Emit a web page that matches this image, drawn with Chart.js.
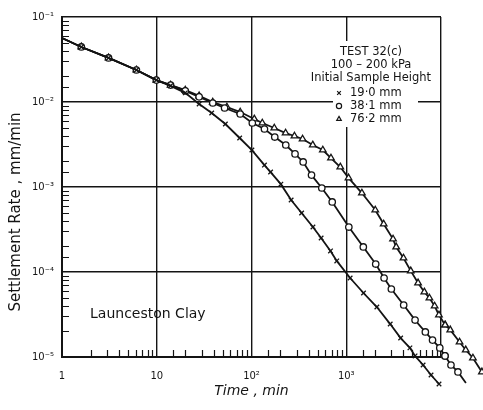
<!DOCTYPE html>
<html>
<head>
<meta charset="utf-8">
<script src="https://cdn.jsdelivr.net/npm/chart.js@4.4.1/dist/chart.umd.min.js"></script>
<style>
  html, body { margin: 0; padding: 0; background: #fff; }
</style>
</head>
<body>
<canvas id="chart" width="483" height="410"></canvas>
<script>
// time (min) and settlement rate (mm/min)
const time19 = [1, 1.6, 3.1, 6.1, 9.9, 14, 20, 28, 38, 53, 75, 101, 137, 159, 204, 262, 338, 445, 543, 682,
    794, 1099, 1521, 2104, 2911, 3750, 4698, 5323, 6471, 7848, 9528];
const rate19 = [0.0566, 0.0444, 0.033, 0.0238, 0.0181, 0.0155, 0.0128, 0.00946, 0.00743, 0.00551,
    0.00377, 0.00272, 0.00181, 0.0015, 0.00108, 0.000703, 0.000494, 0.000338, 0.000251, 0.000177,
    0.000135, 8.49e-5, 5.66e-5, 3.87e-5, 2.44e-5, 1.67e-5, 1.28e-5, 1.03e-5, 8.05e-6, 6.14e-6, 4.81e-6];

const time38 = [1, 1.6, 3.1, 6.1, 9.9, 14, 20, 28, 39, 52, 76, 102, 137, 176, 230, 288, 351, 430, 552, 711,
    1065, 1514, 2046, 2508, 2992, 4038, 5324, 6836, 8140, 9710, 11020, 12740, 15100, 18320];
const rate38 = [0.0566, 0.0444, 0.033, 0.0238, 0.0181, 0.0158, 0.0135, 0.0115, 0.00973, 0.0085,
    0.00722, 0.00566, 0.00481, 0.00387, 0.00312, 0.00245, 0.00197, 0.00138, 0.000973, 0.000667,
    0.000338, 0.000197, 0.000124, 8.5e-5, 6.31e-5, 4.09e-5, 2.72e-5, 1.97e-5, 1.58e-5, 1.28e-5,
    1.03e-5, 8.05e-6, 6.67e-6, 4.94e-6];

const time76 = [1, 1.6, 3.1, 6.1, 9.9, 14, 20, 28, 39, 55, 76, 107, 130, 174, 229, 284, 346, 443, 566, 690,
    865, 1057, 1463, 2024, 2483, 3118, 3367, 4020, 4797, 5728, 6668, 7548, 8567, 9510, 11050,
    12530, 15700, 18240, 21730, 27030];
const rate76 = [0.0566, 0.0444, 0.033, 0.0238, 0.0181, 0.0158, 0.0138, 0.0118, 0.00995, 0.00873,
    0.00762, 0.00631, 0.00566, 0.00494, 0.00431, 0.00398, 0.00367, 0.00312, 0.00272, 0.00219,
    0.00172, 0.00128, 0.000849, 0.000536, 0.000367, 0.000244, 0.000197, 0.000146, 0.000103, 7.43e-5,
    5.82e-5, 4.94e-5, 3.98e-5, 3.12e-5, 2.38e-5, 2.08e-5, 1.5e-5, 1.21e-5, 9.73e-6, 6.67e-6];

const heightLabels = ['19·0 mm', '38·1 mm', '76·2 mm'];
const xTickLabels = ['1', '10', '10²', '10³', ''];        // 10^0 .. 10^4
const yTickLabels = ['10⁻⁵', '10⁻⁴', '10⁻³', '10⁻²', '10⁻¹']; // 10^-5 .. 10^-1
const noteLines = ['TEST 32(c)', '100 – 200 kPa', 'Initial Sample Height'];

const INK = '#141414';

function isDecade(v) {
    const e = Math.log10(v);
    return Math.abs(e - Math.round(e)) < 1e-6;
}

function toPoints(xs, ys) {
    return xs.map((t, i) => ({ x: t, y: ys[i] }));
}

function series(label, xs, ys, style, lastHasMark) {
    const n = xs.length;
    return {
        label: label,
        data: toPoints(xs, ys),
        borderColor: INK,
        borderWidth: 1.8,
        backgroundColor: '#fff',
        pointStyle: style,
        pointBorderColor: INK,
        pointBackgroundColor: '#fff',
        pointBorderWidth: 1.3,
        pointRadius: ctx => (ctx.dataIndex === 0 || (!lastHasMark && ctx.dataIndex === n - 1)) ? 0 : (style === 'triangle' ? 3.8 : 3.2),
        tension: 0,
        clip: false
    };
}

// inner minor ticks, white patch with the test note, clay label, y title
const paperMarks = {
    id: 'paperMarks',
    beforeDatasetsDraw(chart) {
        const { ctx, chartArea: a, scales: { x, y } } = chart;
        ctx.save();
        ctx.strokeStyle = INK;
        ctx.lineWidth = 1.2;
        ctx.beginPath();
        x.ticks.forEach(t => {
            if (isDecade(t.value)) return;
            const px = Math.round(x.getPixelForValue(t.value)) + 0.5;
            ctx.moveTo(px, a.bottom);
            ctx.lineTo(px, a.bottom - 7);
        });
        y.ticks.forEach(t => {
            if (isDecade(t.value)) return;
            const py = Math.round(y.getPixelForValue(t.value)) + 0.5;
            ctx.moveTo(a.left, py);
            ctx.lineTo(a.left + 7, py);
        });
        ctx.stroke();

        // note box
        ctx.fillStyle = '#fff';
        ctx.fillRect(333, 41, 85, 86);
        ctx.fillStyle = INK;
        ctx.font = '11.5px "DejaVu Sans"';
        ctx.textAlign = 'center';
        ctx.textBaseline = 'middle';
        noteLines.forEach((s, i) => ctx.fillText(s, 371, 52 + i * 13));
        ctx.textAlign = 'left';
        chart.data.datasets.forEach((ds, i) => {
            const yy = 93 + i * 13;
            ctx.fillStyle = '#fff';
            ctx.strokeStyle = INK;
            ctx.lineWidth = 1.2;
            Chart.helpers.drawPoint(ctx, { pointStyle: ds.pointStyle, radius: 2.6, borderWidth: 1.2 }, 339, yy);
            ctx.fillStyle = INK;
            ctx.fillText(ds.label, 350, yy);
        });

        ctx.font = '14px "DejaVu Sans"';
        ctx.fillText('Launceston Clay', 90, 314);

        // y axis title, sitting a bit low as in the original
        ctx.translate(16, 212);
        ctx.rotate(-Math.PI / 2);
        ctx.textAlign = 'center';
        ctx.font = '15px "DejaVu Sans"';
        ctx.fillText('Settlement Rate , mm/min', 0, 0);
        ctx.restore();
    },
    // the library skips markers outside the plot box; the original runs past it
    afterDatasetsDraw(chart) {
        const a = chart.chartArea;
        chart.data.datasets.forEach((ds, i) => {
            chart.getDatasetMeta(i).data.forEach(p => {
                const inside = p.x >= a.left && p.x <= a.right && p.y >= a.top && p.y <= a.bottom;
                if (!inside) p.draw(chart.ctx);
            });
        });
    }
};

new Chart(document.getElementById('chart'), {
    type: 'line',
    data: {
        datasets: [
            series(heightLabels[0], time19, rate19, 'crossRot', true),
            series(heightLabels[1], time38, rate38, 'circle', false),
            series(heightLabels[2], time76, rate76, 'triangle', true)
        ]
    },
    options: {
        responsive: false,
        animation: false,
        layout: { padding: { top: 17, right: 42, left: 0, bottom: 0 } },
        plugins: {
            legend: { display: false },
            tooltip: { enabled: false }
        },
        scales: {
            x: {
                type: 'logarithmic',
                // bounds set here (not as min/max) so the curves past 10^4 are still drawn
                afterDataLimits: s => { s.min = 1; s.max = 10000; },
                afterFit: s => { s.height = 53; },
                border: { color: INK, width: 2 },
                grid: {
                    color: c => (c.tick && isDecade(c.tick.value)) ? INK : 'rgba(0,0,0,0)',
                    lineWidth: 1.4,
                    drawTicks: false
                },
                ticks: {
                    autoSkip: false,
                    maxRotation: 0,
                    padding: 13,
                    color: INK,
                    font: { family: 'DejaVu Sans', size: 10 },
                    callback: v => isDecade(v) ? xTickLabels[Math.round(Math.log10(v))] : ''
                },
                title: {
                    display: true,
                    text: 'Time , min',
                    color: INK,
                    font: { family: 'DejaVu Sans', size: 14, style: 'italic' },
                    padding: { top: 0, bottom: 10 }
                }
            },
            y: {
                type: 'logarithmic',
                min: 1e-5,
                max: 1e-1,
                afterFit: s => { s.width = 62; },
                border: { color: INK, width: 2 },
                grid: {
                    color: c => (c.tick && isDecade(c.tick.value)) ? INK : 'rgba(0,0,0,0)',
                    lineWidth: 1.4,
                    drawTicks: false
                },
                ticks: {
                    autoSkip: false,
                    padding: 8,
                    color: INK,
                    font: { family: 'DejaVu Sans', size: 10 },
                    callback: v => isDecade(v) ? yTickLabels[Math.round(Math.log10(v)) + 5] : ''
                }
            }
        }
    },
    plugins: [paperMarks]
});
</script>
</body>
</html>
